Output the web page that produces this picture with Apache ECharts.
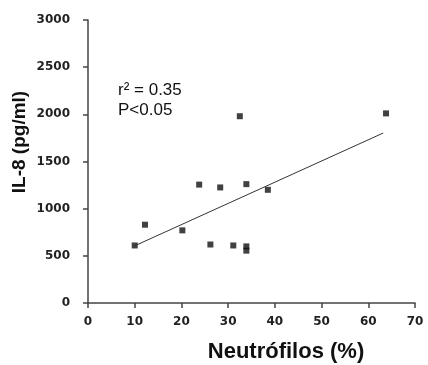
<!DOCTYPE html>
<html>
<head>
<meta charset="utf-8">
<script src="https://cdn.jsdelivr.net/npm/echarts@6/dist/echarts.min.js"></script>
<style>
  html, body { margin: 0; padding: 0; background: #fff; }
  #chart { width: 428px; height: 365px; }
</style>
</head>
<body>
<div id="chart"></div>
<script>
// neutrophil % vs IL-8 (pg/ml)
const neutrofilos = [10, 12.2, 20.2, 23.8, 26.2, 28.3, 31.1, 32.5, 33.9, 33.9, 33.9, 38.5, 63.8];
const il8 = [610, 830, 770, 1255, 620, 1225, 610, 1980, 1260, 600, 555, 1200, 2010];
// regression line end points
const fitX = [10, 63.2];
const fitY = [606, 1802];
const xTicks = [0, 10, 20, 30, 40, 50, 60, 70];
const yTicks = [0, 500, 1000, 1500, 2000, 2500, 3000];

const chart = echarts.init(document.getElementById('chart'));
const axisColor = '#444';
const font = 'Arial, "Liberation Sans", sans-serif';
const tickFont = '"DejaVu Sans", sans-serif';

chart.setOption({
  animation: false,
  grid: {left: 88, right: 13, top: 20, bottom: 62},
  xAxis: {
    type: 'value',
    min: xTicks[0],
    max: xTicks[xTicks.length - 1],
    interval: 10,
    splitLine: {show: false},
    axisLine: {lineStyle: {color: axisColor, width: 1.5}},
    axisTick: {length: 5, lineStyle: {color: axisColor, width: 1.5}},
    axisLabel: {margin: 13, color: '#222', fontWeight: 'bold', fontSize: 12, fontFamily: tickFont,
      formatter: v => String(v)}
  },
  yAxis: {
    type: 'value',
    min: yTicks[0],
    max: yTicks[yTicks.length - 1],
    interval: 500,
    splitLine: {show: false},
    axisLine: {show: true, lineStyle: {color: axisColor, width: 1.5}},
    axisTick: {show: true, length: 5, lineStyle: {color: axisColor, width: 1.5}},
    axisLabel: {margin: 18, color: '#222', fontWeight: 'bold', fontSize: 12, fontFamily: tickFont,
      formatter: v => String(v)}
  },
  graphic: [
    {
      type: 'text', left: 118, top: 80,
      style: {text: 'r² = 0.35\nP<0.05', fontSize: 17, lineHeight: 20, fill: '#111', fontFamily: font}
    },
    {
      type: 'text', x: 286, y: 352,
      style: {text: 'Neutrófilos (%)', fontSize: 22, fontWeight: 'bold', fill: '#111', fontFamily: font,
        align: 'center', verticalAlign: 'middle'}
    },
    {
      type: 'text', x: 20, y: 142, rotation: Math.PI / 2,
      style: {text: 'IL-8 (pg/ml)', fontSize: 19, fontWeight: 'bold', fill: '#111', fontFamily: font,
        align: 'center', verticalAlign: 'middle'}
    }
  ],
  series: [
    {
      type: 'scatter',
      symbol: 'rect',
      symbolSize: 6,
      itemStyle: {color: '#111'},
      data: neutrofilos.map((x, i) => [x, il8[i]])
    },
    {
      type: 'line',
      symbol: 'none',
      lineStyle: {color: '#333', width: 1},
      data: fitX.map((x, i) => [x, fitY[i]])
    }
  ]
});
</script>
</body>
</html>
